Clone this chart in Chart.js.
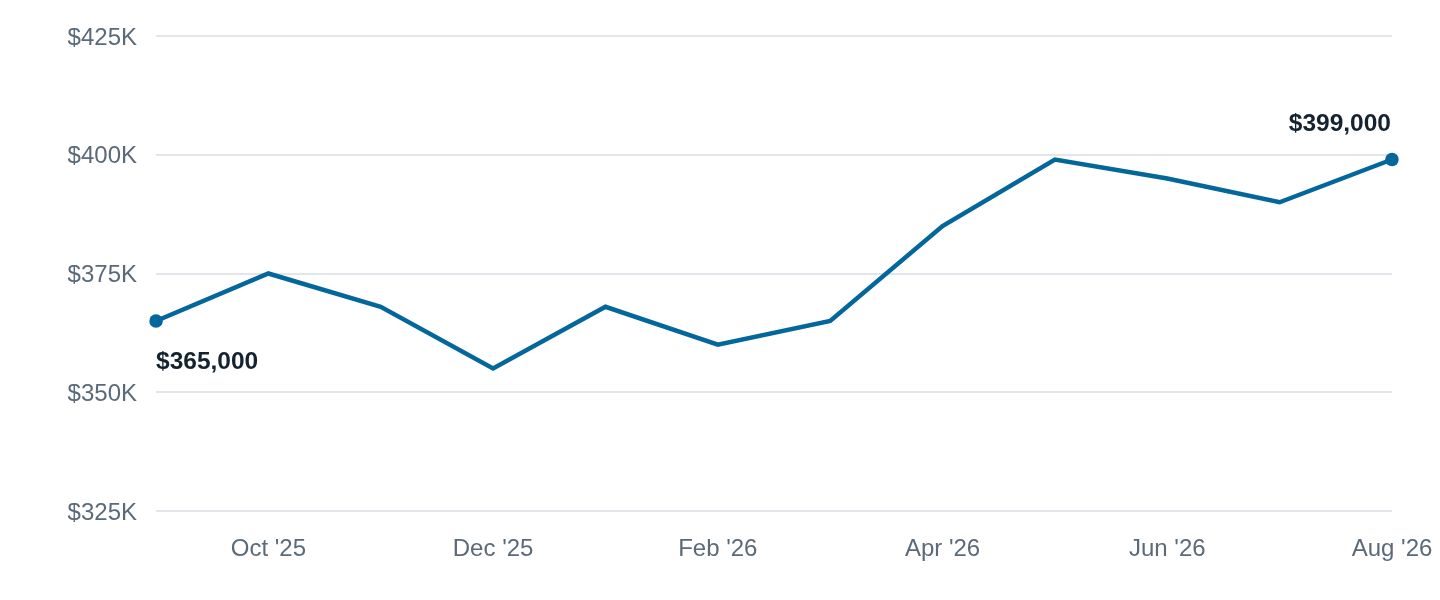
<!DOCTYPE html>
<html>
<head>
<meta charset="utf-8">
<script src="https://cdn.jsdelivr.net/npm/chart.js@4.4.1/dist/chart.umd.min.js"></script>
<style>
html,body{margin:0;padding:0;background:#fff;}
#wrap{width:1440px;height:600px;}
</style>
</head>
<body>
<div id="wrap"><canvas id="c" width="1440" height="600"></canvas></div>
<script>
const months = ["Sep '25","Oct '25","Nov '25","Dec '25","Jan '26","Feb '26","Mar '26","Apr '26","May '26","Jun '26","Jul '26","Aug '26"];
const prices = [365000,375000,368000,355000,368000,360000,365000,385000,399000,395000,390000,399000];
const yTicks = [325000,350000,375000,400000,425000];

const LINE = '#03679b';
const fmtFull = v => '$' + v.toLocaleString('en-US');

const endLabels = {
  id: 'endLabels',
  afterDatasetsDraw(chart) {
    const ctx = chart.ctx;
    const meta = chart.getDatasetMeta(0);
    const first = meta.data[0], last = meta.data[meta.data.length - 1];
    ctx.save();
    ctx.font = 'bold 24.5px "Liberation Sans", Arial, sans-serif';
    ctx.fillStyle = '#14232f';
    ctx.textBaseline = 'middle';
    ctx.textAlign = 'left';
    ctx.fillText(fmtFull(prices[0]), first.x, first.y + 41);
    ctx.textAlign = 'right';
    ctx.fillText(fmtFull(prices[prices.length - 1]), last.x - 1, last.y - 35);
    ctx.restore();
  }
};

new Chart(document.getElementById('c'), {
  type: 'line',
  data: {
    labels: months,
    datasets: [{
      data: prices,
      borderColor: LINE,
      backgroundColor: LINE,
      borderWidth: 4.5,
      tension: 0,
      pointRadius: prices.map((v, i) => (i === 0 || i === prices.length - 1) ? 6.8 : 0),
      pointHoverRadius: 0,
      pointBorderWidth: 0
    }]
  },
  options: {
    responsive: false,
    devicePixelRatio: 1,
    animation: false,
    layout: { padding: { top: 36, right: 48, left: 0, bottom: 0 } },
    plugins: { legend: { display: false }, tooltip: { enabled: false } },
    scales: {
      x: {
        offset: false,
        grid: { display: false, drawTicks: false },
        border: { display: false },
        ticks: {
          autoSkip: false,
          maxRotation: 0,
          color: '#5b6a79',
          font: { family: '"Liberation Sans", Arial, sans-serif', size: 24 },
          padding: 24,
          callback: function(v, i) { return i % 2 === 1 ? months[i] : ''; }
        },
        afterFit(s) { s.height = 89; s.paddingLeft = 0; s.paddingRight = 0; }
      },
      y: {
        min: yTicks[0],
        max: yTicks[yTicks.length - 1],
        afterBuildTicks(s) { s.ticks = yTicks.map(v => ({ value: v })); },
        grid: { color: '#e2e6eb', lineWidth: 2, drawTicks: false },
        border: { display: false },
        ticks: {
          color: '#5b6a79',
          font: { family: '"Liberation Sans", Arial, sans-serif', size: 24 },
          padding: 19,
          labelOffset: 2,
          callback: v => '$' + (v / 1000) + 'K'
        },
        afterFit(s) { s.width = 156; s.paddingTop = 0; s.paddingBottom = 0; }
      }
    }
  },
  plugins: [endLabels]
});
</script>
</body>
</html>
